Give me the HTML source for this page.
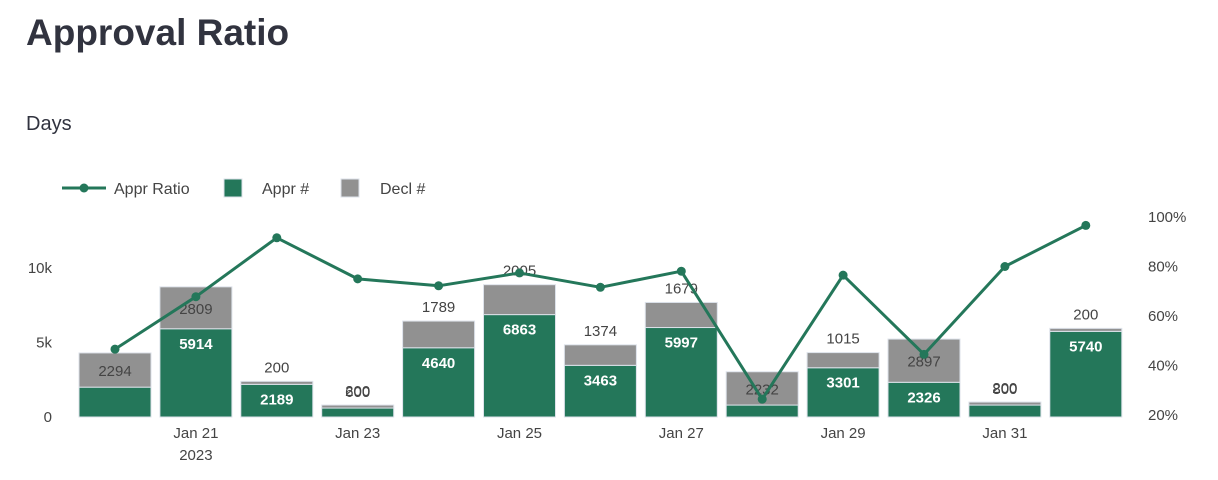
<!DOCTYPE html>
<html><head><meta charset="utf-8"><style>
body{margin:0;background:#fff;width:1218px;height:480px;overflow:hidden;font-family:"Liberation Sans",sans-serif;}
svg{position:absolute;left:0;top:0}
</style></head><body>
<svg id="c" width="1218" height="480">
<text x="26" y="45" font-size="37" font-weight="bold" fill="#31333f">Approval Ratio</text>
<text x="26" y="130" font-size="20" fill="#31333f">Days</text>
<g>
<line x1="62" y1="188" x2="106" y2="188" stroke="#24775a" stroke-width="3"/>
<circle cx="84" cy="188" r="4.5" fill="#24775a"/>
<text x="114" y="194" font-size="16" fill="#444">Appr Ratio</text>
<rect x="224" y="179" width="18" height="18" fill="#24775a" stroke="#dde2ea"/>
<text x="262" y="194" font-size="16" fill="#444">Appr #</text>
<rect x="341" y="179" width="18" height="18" fill="#919191" stroke="#dde2ea"/>
<text x="380" y="194" font-size="16" fill="#444">Decl #</text>
</g>
<g id="plot"></g>
</svg>
<script>
const categories=["Jan 20","Jan 21","Jan 22","Jan 23","Jan 24","Jan 25","Jan 26","Jan 27","Jan 28","Jan 29","Jan 30","Jan 31","Feb 1"];
const apprValues=[2000,5914,2189,600,4640,6863,3463,5997,800,3301,2326,800,5740];
const declValues=[2294,2809,200,200,1789,2005,1374,1679,2232,1015,2897,200,200];
const ratioValues=[46.6,67.8,91.6,75,72.2,77.4,71.6,78.1,26.4,76.5,44.5,80,96.6];
const leftTicks=[0,5000,10000];
const leftTickLabels=["0","5k","10k"];
const rightTicks=[20,40,60,80,100];
const xTickLabels=["","Jan 21","","Jan 23","","Jan 25","","Jan 27","","Jan 29","","Jan 31",""];

const NS="http://www.w3.org/2000/svg";
const g=document.getElementById('plot');
const x0=115,step=80.9,bw=72;
const xPos=i=>x0+i*step;
const yL=v=>417-v*0.01492;
const yR=p=>415-(p-20)*2.475;
function mk(tag,attrs,txt){const e=document.createElementNS(NS,tag);for(const k in attrs)e.setAttribute(k,attrs[k]);if(txt!==undefined)e.textContent=txt;g.appendChild(e);return e;}

leftTicks.forEach((v,i)=>{
  const t=mk('text',{x:52,y:yL(v)+5,'font-size':15,fill:'#444','text-anchor':'end'},leftTickLabels[i]);
  
  
});
rightTicks.forEach(v=>{
  const t=mk('text',{x:1148,y:yR(v)+5,'font-size':15,fill:'#444'},v+'%');
  
  
});
xTickLabels.forEach((l,i)=>{
  if(!l)return;
  const t=mk('text',{x:xPos(i),y:438,'font-size':15,fill:'#444','text-anchor':'middle'},l);
  
  
});
const yr=mk('text',{x:xPos(1),y:460,'font-size':15,fill:'#444','text-anchor':'middle'},'2023');



categories.forEach((c,i)=>{
  const a=apprValues[i],d=declValues[i];
  const xl=xPos(i)-bw/2;
  const ya=yL(a),yt=yL(a+d);
  const ra=mk('rect',{x:xl,y:ya,width:bw,height:417-ya,fill:'#24775a',stroke:'#dde2ea','stroke-width':1});
  
  
  const rd=mk('rect',{x:xl,y:yt,width:bw,height:ya-yt,fill:'#919191',stroke:'#dde2ea','stroke-width':1});
  
  
  // decl label
  let dy=(d>=2100)?(yt+ya)/2+6:yt-9;
  const dl=mk('text',{x:xPos(i),y:dy,'font-size':15,fill:'#444','text-anchor':'middle'},d);
  
  
  // appr label
  if(a>=2100){
    const al=mk('text',{x:xPos(i),y:ya+20,'font-size':15,'font-weight':'bold',fill:'#fff','text-anchor':'middle'},a);
    
    
  }else if(a+d<1500){
    const al=mk('text',{x:xPos(i),y:yt-8,'font-size':15,fill:'#444','text-anchor':'middle'},a);
    
    
  }
});

const pts=ratioValues.map((r,i)=>xPos(i)+','+yR(r)).join(' ');
const pl=mk('polyline',{points:pts,fill:'none',stroke:'#24775a','stroke-width':3,'stroke-linejoin':'round'});


ratioValues.forEach((r,i)=>{
  const p=mk('circle',{cx:xPos(i),cy:yR(r),r:4.5,fill:'#24775a'});
  
  
});
</script>
</body></html>
